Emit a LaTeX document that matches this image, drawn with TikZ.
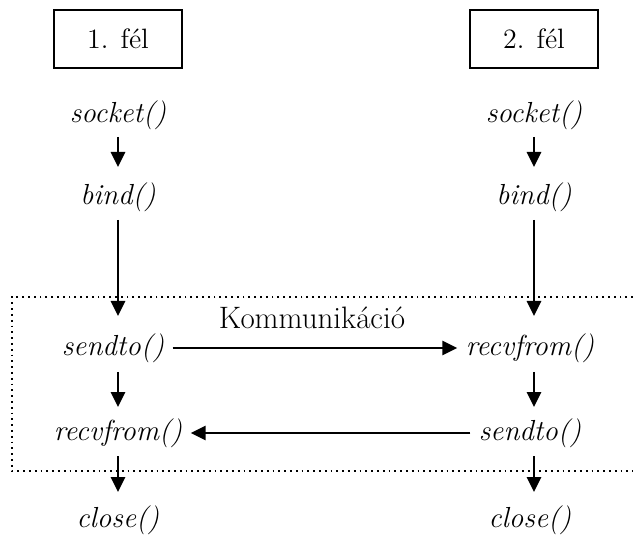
\documentclass[tikz,border=0pt]{standalone}
\usetikzlibrary{arrows.meta}
\begin{document}
\begin{tikzpicture}[x=0.5pt,y=-0.5pt,
  fn/.style={font=\fontsize{14.5}{16}\selectfont\itshape, inner sep=1pt},
  side/.style={draw, line width=1pt, minimum width=64pt, minimum height=29pt, font=\fontsize{14}{16}\selectfont},
  flow/.style={line width=1.4pt, -{Triangle[width=7pt,length=7.5pt]}},
  frame/.style={dotted, line width=0.9pt}]
\useasboundingbox (0,0) rectangle (633,535);
% headers
\node[side] (h1) at (118,39) {1. fél};
\node[side] (h2) at (534,39) {2. fél};
% left column
\node[fn] (s1) at (118,115) {socket()};
\node[fn] (b1) at (118,197) {bind()};
\node[fn] (st1) at (113,348) {sendto()};
\node[fn] (r1) at (118,433) {recvfrom()};
\node[fn] (c1) at (118,520) {close()};
% right column
\node[fn] (s2) at (534,115) {socket()};
\node[fn] (b2) at (534,197) {bind()};
\node[fn] (r2) at (530,348) {recvfrom()};
\node[fn] (st2) at (530,433) {sendto()};
\node[fn] (c2) at (530,520) {close()};
% label
\node[font=\fontsize{15.5}{17}\selectfont, inner sep=1pt] (k) at (312,318) {Kommunikáció};
% frame (open on the right)
\coordinate (ftr) at (633,297);
\coordinate (ftl) at (12,297);
\coordinate (fbl) at (12,471);
\coordinate (fbr) at (633,471);
\draw[frame] (ftr) -- (ftl) -- (fbl) -- (fbr);
% vertical arrows
\draw[flow] (118,137) -- (118,167);
\draw[flow] (534,137) -- (534,167);
\draw[flow] (b1) ++(0,23) -- (118,316);
\draw[flow] (b2) ++(0,23) -- (534,316);
\draw[flow] (118,372) -- (118,407);
\draw[flow] (534,372) -- (534,407);
\draw[flow] (118,456) -- (118,492);
\draw[flow] (534,456) -- (534,492);
% horizontal arrows
\draw[flow] ([xshift=3pt]st1.east) -- ([xshift=-3pt]r2.west);
\draw[flow] ([xshift=-3pt]st2.west) -- ([xshift=3pt]r1.east);
\end{tikzpicture}
\end{document}
